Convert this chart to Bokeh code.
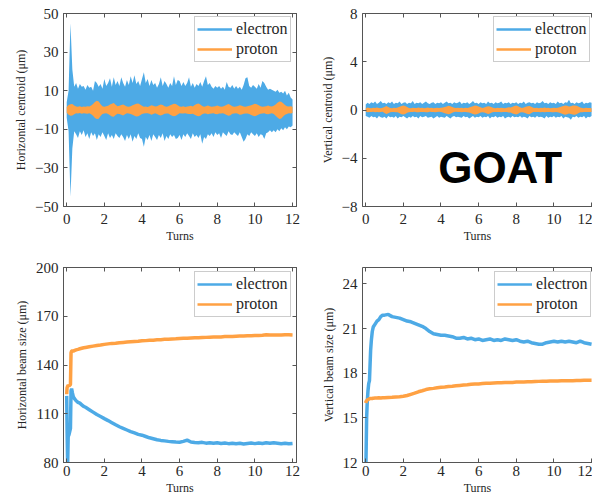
import numpy as np
from bokeh.plotting import figure
from bokeh.models import Range1d, FixedTicker, LinearAxis, Legend, LegendItem, Label
from bokeh.layouts import column, row
from bokeh.embed import file_html
from bokeh.resources import INLINE

# ---------------------------------------------------------------- data
# sampling grid of the centroid envelopes (turns)
turns_fine = np.round(np.arange(0, 121) * 0.1, 1)

# horizontal centroid (um): upper / lower envelope of the oscillation
h_cen_electron_up = [
    4, 10, 45, 21, 12, 14, 11, 13.5, 12, 12.5,
    10.5, 13, 11.5, 12, 10, 15, 14, 12, 13.5, 11,
    16, 12.5, 14, 16.5, 12, 17, 13, 15, 12.5, 17,
    14, 12, 15.5, 13, 17.5, 14, 18, 13.5, 15, 12.5,
    16, 19.5, 14, 16, 12.5, 15.5, 13, 14, 11.5, 13.5,
    17, 12.5, 15, 13.5, 11.5, 14, 12.5, 17.5, 13, 15.5,
    15, 12.5, 14.5, 12.5, 14, 17, 12, 14, 11.5, 13.5,
    12.5, 14.5, 12, 15, 17.5, 13, 14, 12, 11, 12.5,
    11.5, 12.5, 11, 12, 10.5, 14.5, 12, 11.5, 13, 11,
    12.5, 11, 12, 10.5, 13, 16.5, 17, 12.5, 11.5, 13,
    12, 11, 13.5, 11.5, 15, 14, 12, 10.5, 11, 10.5,
    10, 9.5, 10.5, 9, 9.5, 8.5, 10, 7.5, 9, 6.5, 5.5]
h_cen_electron_lo = [
    -4, -11, -45, -20, -11, -12.5, -14.5, -11, -13, -10.5,
    -14, -12, -15, -11.5, -13.5, -12, -15.5, -12.5, -14, -11.5,
    -13.5, -15.5, -12, -14.5, -13, -15, -12, -13.5, -14.5, -12.5,
    -14, -16, -13, -15, -12.5, -16.5, -13.5, -15, -12, -14.5,
    -15, -19, -14, -15.5, -13, -16, -12.5, -14, -15.5, -13,
    -14.5, -12, -16, -13.5, -15, -12.5, -14, -13, -15, -14.5,
    -13, -15.5, -12.5, -14, -12, -13.5, -15, -12, -14, -13,
    -14.5, -12.5, -17.5, -14, -15, -12.5, -13.5, -12, -14, -11.5,
    -13, -12, -14.5, -11.5, -12.5, -13.5, -11, -12.5, -13, -11.5,
    -12.5, -13.5, -11.5, -14, -16.5, -15, -12.5, -13.5, -11.5, -12.5,
    -13.5, -12, -14, -12.5, -13, -15, -12, -11.5, -10.5, -11.5,
    -10.5, -11.5, -10, -11, -9.5, -10.5, -9, -10, -8.5, -9, -8]
h_cen_proton_up = [
    1.5, 2.6, 3.0, 3.1, 2.3, 1.8, 1.7, 1.9, 1.6, 1.8,
    1.7, 2.0, 1.8, 2.3, 3.1, 4.2, 4.8, 4.4, 3.0, 2.0,
    1.7, 1.9, 2.2, 2.8, 3.3, 3.6, 2.7, 1.9, 2.2, 2.6,
    2.9, 2.3, 1.8, 1.7, 2.0, 2.4, 2.9, 3.3, 3.4, 2.9,
    2.2, 1.7, 1.8, 1.6, 1.9, 2.4, 2.2, 1.8, 2.0, 2.5,
    2.9, 2.6, 1.9, 1.7, 1.9, 2.4, 2.9, 3.3, 3.1, 2.4,
    1.8, 1.7, 1.9, 1.6, 1.8, 2.0, 2.2, 1.8, 2.6, 3.1,
    3.4, 2.9, 2.1, 1.7, 1.9, 2.3, 1.9, 1.7, 1.8, 2.0,
    2.3, 1.9, 1.7, 1.8, 2.2, 2.7, 3.1, 2.6, 1.9, 1.7,
    1.8, 2.1, 2.5, 2.2, 1.8, 1.7, 1.9, 2.2, 2.5, 2.9,
    3.3, 3.0, 2.4, 1.9, 1.7, 1.8, 2.0, 2.3, 2.0, 1.8,
    2.2, 2.9, 3.7, 4.4, 4.3, 3.5, 2.6, 2.0, 1.8, 1.9, 1.7]
h_cen_proton_lo = [
    -1.4, -2.4, -3.0, -2.9, -2.2, -1.7, -1.8, -1.6, -1.9, -1.7,
    -1.8, -1.9, -1.7, -2.2, -3.0, -4.1, -4.7, -4.5, -3.1, -2.1,
    -1.8, -1.7, -2.1, -2.7, -3.4, -3.5, -2.6, -2.0, -2.1, -2.5,
    -2.8, -2.2, -1.7, -1.8, -2.1, -2.5, -3.0, -3.4, -3.2, -2.7,
    -2.1, -1.8, -1.7, -1.7, -2.0, -2.5, -2.1, -1.7, -2.1, -2.6,
    -2.8, -2.5, -2.0, -1.8, -1.8, -2.5, -3.0, -3.2, -3.0, -2.3,
    -1.7, -1.8, -1.8, -1.7, -1.9, -2.1, -2.1, -1.9, -2.5, -3.0,
    -3.3, -3.0, -2.2, -1.8, -1.8, -2.2, -2.0, -1.8, -1.7, -2.1,
    -2.2, -1.8, -1.8, -1.7, -2.1, -2.6, -3.0, -2.7, -2.0, -1.8,
    -1.7, -2.0, -2.4, -2.3, -1.9, -1.8, -1.8, -2.1, -2.6, -3.0,
    -3.2, -2.9, -2.3, -2.0, -1.8, -1.7, -2.1, -2.2, -1.9, -1.7,
    -2.1, -3.0, -3.9, -4.6, -4.4, -3.4, -2.5, -2.1, -1.7, -1.8, -1.6]

# vertical centroid (um): upper / lower envelope
v_cen_electron_up = [
    0.45, 0.6, 0.5, 0.65, 0.55, 0.7, 0.5, 0.6, 0.75, 0.55,
    0.6, 0.5, 0.65, 0.55, 0.7, 0.5, 0.6, 0.55, 0.7, 0.5,
    0.6, 0.65, 0.5, 0.6, 0.55, 0.75, 0.5, 0.6, 0.55, 0.65,
    0.5, 0.6, 0.7, 0.55, 0.5, 0.6, 0.65, 0.5, 0.6, 0.55,
    0.65, 0.5, 0.6, 0.7, 0.55, 0.6, 0.5, 0.65, 0.55, 0.6,
    0.7, 0.5, 0.6, 0.55, 0.65, 0.5, 0.6, 0.75, 0.55, 0.6,
    0.5, 0.65, 0.55, 0.6, 0.5, 0.7, 0.55, 0.6, 0.5, 0.65,
    0.55, 0.6, 0.7, 0.5, 0.6, 0.55, 0.65, 0.5, 0.6, 0.55,
    0.65, 0.5, 0.6, 0.55, 0.7, 0.5, 0.6, 0.65, 0.55, 0.6,
    0.5, 0.65, 0.55, 0.6, 0.75, 0.55, 0.6, 0.5, 0.65, 0.55,
    0.6, 0.5, 0.7, 0.55, 0.6, 0.5, 0.65, 0.6, 0.85, 0.55,
    0.6, 0.5, 0.65, 0.55, 0.6, 0.7, 0.5, 0.6, 0.55, 0.65, 0.6]
v_cen_electron_lo = [
    -0.5, -0.55, -0.65, -0.5, -0.6, -0.55, -0.7, -0.5, -0.6, -0.65,
    -0.55, -0.7, -0.5, -0.6, -0.55, -0.65, -0.5, -0.7, -0.55, -0.6,
    -0.5, -0.6, -0.7, -0.55, -0.65, -0.5, -0.6, -0.55, -0.7, -0.5,
    -0.6, -0.55, -0.5, -0.65, -0.6, -0.55, -0.7, -0.6, -0.5, -0.65,
    -0.55, -0.6, -0.65, -0.5, -0.6, -0.7, -0.55, -0.5, -0.6, -0.55,
    -0.6, -0.65, -0.5, -0.6, -0.55, -0.7, -0.6, -0.5, -0.65, -0.55,
    -0.6, -0.5, -0.65, -0.55, -0.6, -0.5, -0.7, -0.55, -0.6, -0.5,
    -0.65, -0.55, -0.6, -0.5, -0.7, -0.6, -0.55, -0.65, -0.5, -0.6,
    -0.55, -0.6, -0.5, -0.65, -0.55, -0.6, -0.7, -0.5, -0.6, -0.55,
    -0.65, -0.5, -0.6, -0.55, -0.6, -0.7, -0.5, -0.65, -0.55, -0.6,
    -0.5, -0.65, -0.55, -0.6, -0.5, -0.7, -0.55, -0.6, -0.65, -0.8,
    -0.55, -0.6, -0.5, -0.65, -0.55, -0.6, -0.5, -0.7, -0.55, -0.6, -0.5]
v_cen_proton_up = [
    0.12, 0.2, 0.17, 0.15, 0.18, 0.16, 0.2, 0.17, 0.15, 0.18,
    0.25, 0.33, 0.25, 0.17, 0.15, 0.18, 0.16, 0.2, 0.26, 0.34,
    0.38, 0.34, 0.24, 0.17, 0.15, 0.18, 0.16, 0.17, 0.2, 0.16,
    0.18, 0.15, 0.17, 0.2, 0.16, 0.18, 0.15, 0.17, 0.19, 0.16,
    0.18, 0.2, 0.25, 0.3, 0.35, 0.32, 0.24, 0.18, 0.16, 0.18,
    0.16, 0.19, 0.15, 0.18, 0.17, 0.2, 0.26, 0.32, 0.37, 0.36,
    0.3, 0.22, 0.17, 0.2, 0.26, 0.32, 0.3, 0.22, 0.17, 0.15,
    0.18, 0.16, 0.19, 0.17, 0.15, 0.18, 0.22, 0.2, 0.27, 0.33,
    0.37, 0.32, 0.22, 0.17, 0.2, 0.26, 0.32, 0.34, 0.26, 0.18,
    0.16, 0.18, 0.15, 0.19, 0.17, 0.2, 0.16, 0.18, 0.15, 0.17,
    0.19, 0.16, 0.18, 0.22, 0.28, 0.34, 0.38, 0.36, 0.3, 0.32,
    0.37, 0.38, 0.36, 0.28, 0.2, 0.17, 0.15, 0.18, 0.16, 0.17, 0.15]
v_cen_proton_lo = [
    -0.13, -0.18, -0.16, -0.17, -0.15, -0.19, -0.16, -0.18, -0.17, -0.15,
    -0.24, -0.34, -0.26, -0.18, -0.16, -0.17, -0.18, -0.19, -0.27, -0.35,
    -0.38, -0.33, -0.23, -0.18, -0.16, -0.17, -0.15, -0.18, -0.19, -0.17,
    -0.16, -0.17, -0.18, -0.19, -0.15, -0.17, -0.16, -0.18, -0.17, -0.15,
    -0.17, -0.21, -0.26, -0.31, -0.36, -0.31, -0.23, -0.17, -0.15, -0.17,
    -0.17, -0.18, -0.16, -0.17, -0.18, -0.21, -0.27, -0.33, -0.38, -0.35,
    -0.29, -0.21, -0.18, -0.21, -0.27, -0.33, -0.29, -0.21, -0.16, -0.16,
    -0.17, -0.17, -0.18, -0.16, -0.16, -0.17, -0.21, -0.21, -0.28, -0.34,
    -0.38, -0.31, -0.21, -0.18, -0.21, -0.27, -0.33, -0.35, -0.25, -0.17,
    -0.17, -0.17, -0.16, -0.18, -0.16, -0.19, -0.17, -0.17, -0.16, -0.18,
    -0.18, -0.17, -0.19, -0.23, -0.29, -0.35, -0.39, -0.35, -0.29, -0.33,
    -0.38, -0.39, -0.35, -0.27, -0.19, -0.18, -0.16, -0.17, -0.17, -0.16, -0.16]

# beam sizes (um)
turns_bs = [0.0, 0.02, 0.05, 0.08, 0.12, 0.16, 0.2, 0.23, 0.26, 0.3, 0.35, 0.4,
            0.5, 0.6, 0.7, 0.8, 0.9, 1.0,
            1.2, 1.4, 1.6, 1.8, 2.0, 2.2, 2.4, 2.6, 2.8, 3.0,
            3.2, 3.4, 3.6, 3.8, 4.0, 4.2, 4.4, 4.6, 4.8, 5.0,
            5.2, 5.4, 5.6, 5.8, 6.0, 6.2, 6.4, 6.6, 6.8, 7.0,
            7.2, 7.4, 7.6, 7.8, 8.0, 8.2, 8.4, 8.6, 8.8, 9.0,
            9.2, 9.4, 9.6, 9.8, 10.0, 10.2, 10.4, 10.6, 10.8, 11.0,
            11.2, 11.4, 11.6, 11.8, 12.0]
h_size_electron = [121, 100, 79, 96, 97, 99, 101, 124, 125.5, 123, 120.5, 119.5,
                   118, 117, 116.5, 115.5, 114.5, 114,
                   112.5, 111, 109.5, 108.3, 107, 105.8, 104.5, 103.2, 102, 101,
                   100, 99, 98.2, 97.3, 96.8, 96, 95.2, 94.6, 94, 93.6,
                   93.3, 93, 92.8, 92.6, 92.5, 93, 93.8, 92.6, 92.3, 92.1,
                   92.4, 91.9, 92.2, 91.8, 92.1, 91.7, 92, 91.6, 91.9, 91.5,
                   91.8, 91.4, 91.7, 92, 91.6, 92, 91.7, 92.1, 91.8, 92.2,
                   91.9, 91.6, 91.9, 91.5, 91.7]
h_size_proton = [122, 126, 127, 127.5, 127, 127.5, 128, 147.5, 148.5, 148.8, 148.5, 148.8,
                 149.3, 149.6, 150, 150.3, 150.6, 150.8,
                 151.2, 151.6, 152, 152.3, 152.7, 153, 153.3, 153.4, 153.7, 153.9,
                 154.1, 154.3, 154.5, 154.6, 154.9, 155, 155.2, 155.3, 155.5, 155.6,
                 155.8, 155.9, 156, 156.1, 156.3, 156.4, 156.5, 156.6, 156.7, 156.8,
                 156.9, 157, 157.1, 157.2, 157.3, 157.3, 157.5, 157.5, 157.6, 157.7,
                 157.8, 157.9, 158, 158, 158.1, 158.2, 158.3, 158.6, 158.4, 158.4,
                 158.5, 158.5, 158.6, 158.6, 158.5]
v_size_electron = [11, 12.5, 15, 16, 16.8, 17.3, 17.5, 18.5, 19.5, 20.2, 20.8, 21.1,
                   21.3, 21.5, 21.6, 21.8, 21.9, 21.9,
                   21.95, 21.8, 21.75, 21.7, 21.6, 21.5, 21.45, 21.35, 21.25, 21.15,
                   21.0, 20.8, 20.65, 20.6, 20.55, 20.55, 20.5, 20.45, 20.35, 20.35,
                   20.4, 20.3, 20.35, 20.25, 20.3, 20.2, 20.25, 20.3, 20.2, 20.25,
                   20.2, 20.3, 20.25, 20.2, 20.25, 20.15, 20.1, 20.15, 20.05, 20.0,
                   19.95, 19.95, 20.05, 20.1, 20.15, 20.1, 20.15, 20.1, 20.15, 20.1,
                   20.05, 20.15, 20.05, 20.0, 19.95]
v_size_proton = [16.0, 16.1, 16.15, 16.2, 16.22, 16.25, 16.28, 16.3, 16.3, 16.3, 16.3, 16.32,
                 16.33, 16.33, 16.35, 16.33, 16.35, 16.35,
                 16.37, 16.38, 16.4, 16.42, 16.45, 16.5, 16.58, 16.66, 16.75, 16.82,
                 16.9, 16.95, 16.98, 17.02, 17.05, 17.07, 17.1, 17.12, 17.15, 17.18,
                 17.2, 17.22, 17.25, 17.27, 17.28, 17.3, 17.32, 17.33, 17.34, 17.35,
                 17.36, 17.37, 17.38, 17.38, 17.4, 17.4, 17.41, 17.42, 17.43, 17.44,
                 17.45, 17.46, 17.46, 17.47, 17.48, 17.48, 17.49, 17.5, 17.5, 17.5,
                 17.51, 17.51, 17.52, 17.52, 17.52]

x_ticks = [0, 2, 4, 6, 8, 10, 12]
h_cen_ticks = [-50, -30, -10, 10, 30, 50]
v_cen_ticks = [-8, -4, 0, 4, 8]
h_size_ticks = [80, 110, 140, 170, 200]
v_size_ticks = [12, 15, 18, 21, 24]
series_names = ["electron", "proton"]

# ---------------------------------------------------------------- style
BLUE = "#4DAAE6"
ORANGE = "#FFA143"
FRAME = "#555555"
TEXT = "#262626"
SERIF = "Liberation Serif"


def style_axis(ax, ticks):
    ax.ticker = FixedTicker(ticks=ticks)
    ax.major_tick_in = 4
    ax.major_tick_out = 0
    ax.minor_tick_line_color = None
    ax.axis_line_color = FRAME
    ax.major_tick_line_color = FRAME
    ax.major_label_text_font = SERIF
    ax.major_label_text_font_size = "15px"
    ax.major_label_text_color = TEXT
    ax.axis_label_text_font = SERIF
    ax.axis_label_text_font_size = "12px"
    ax.axis_label_text_font_style = "normal"
    ax.axis_label_text_color = TEXT


def mirror_axis(p, ticks, side):
    ax = LinearAxis(ticker=FixedTicker(ticks=ticks),
                    major_tick_in=4, major_tick_out=0,
                    minor_tick_line_color=None,
                    axis_line_color=FRAME, major_tick_line_color=FRAME,
                    major_label_text_font_size="0px", major_label_standoff=0,
                    major_label_overrides={t: "" for t in ticks})
    p.add_layout(ax, side)


def panel(width, height, x_end, y_lo, y_hi, y_ticks, y_label,
          top, bottom, left, right, x_standoff, full_frame):
    p = figure(width=width, height=height,
               x_range=Range1d(-0.17, x_end), y_range=Range1d(y_lo, y_hi),
               output_backend="svg", toolbar_location=None,
               min_border_left=left, min_border_right=right,
               min_border_top=top, min_border_bottom=bottom)
    p.xgrid.visible = False
    p.ygrid.visible = False
    p.background_fill_color = "white"
    p.border_fill_color = "white"
    p.outline_line_color = FRAME if full_frame else None
    style_axis(p.xaxis[0], x_ticks)
    style_axis(p.yaxis[0], y_ticks)
    p.xaxis.axis_label = "Turns"
    p.yaxis.axis_label = y_label
    p.xaxis.major_label_standoff = x_standoff
    p.yaxis.major_label_standoff = 5
    p.xaxis.axis_label_standoff = 2
    p.yaxis.axis_label_standoff = 4
    mirror_axis(p, x_ticks, "above")
    if full_frame:
        mirror_axis(p, y_ticks, "right")
    return p


def add_legend(p, x, y):
    # key entries: line renderers holding a single missing sample
    r_e = p.line(x=[np.nan], y=[np.nan], line_color=BLUE, line_width=2.5)
    r_p = p.line(x=[np.nan], y=[np.nan], line_color=ORANGE, line_width=2.5)
    leg = Legend(items=[LegendItem(label=series_names[0], renderers=[r_e]),
                        LegendItem(label=series_names[1], renderers=[r_p])],
                 location=(x, y), orientation="vertical",
                 border_line_color="#9a9a9a", border_line_width=1,
                 background_fill_color="white", background_fill_alpha=1,
                 padding=2, spacing=0, margin=0,
                 glyph_width=35, glyph_height=20, label_height=20,
                 label_standoff=4,
                 label_text_font=SERIF, label_text_font_size="16px",
                 label_text_color=TEXT)
    p.add_layout(leg)


# ---------------------------------------------------------------- panels
p1 = panel(300, 250, 12.21, -50, 50, h_cen_ticks, "Horizontal centroid (\u03bcm)",
           13, 44, 63, 4, 7, True)
p1.varea(x=turns_fine, y1=h_cen_electron_lo, y2=h_cen_electron_up, fill_color=BLUE)
p1.varea(x=turns_fine, y1=h_cen_proton_lo, y2=h_cen_proton_up, fill_color=ORANGE)
add_legend(p1, 131, 144)

p2 = panel(292, 250, 12.05, -8, 8, v_cen_ticks, "Vertical centroid (\u03bcm)",
           13, 44, 62, 0, 7, False)
p2.varea(x=turns_fine, y1=v_cen_electron_lo, y2=v_cen_electron_up, fill_color=BLUE)
p2.varea(x=turns_fine, y1=v_cen_proton_lo, y2=v_cen_proton_up, fill_color=ORANGE)
add_legend(p2, 131, 144)
p2.add_layout(Label(x=7.14, y=-4.8, text="GOAT", text_font="Liberation Sans",
                    text_font_style="bold", text_font_size="44px", text_color="black",
                    text_align="center", text_baseline="middle"))

p3 = panel(300, 251, 12.21, 80, 200, h_size_ticks, "Horizontal beam size (\u03bcm)",
           17, 39, 63, 4, 3, True)
p3.line(turns_bs, h_size_electron, line_color=BLUE, line_width=3.5)
p3.line(turns_bs, h_size_proton, line_color=ORANGE, line_width=3.5)
add_legend(p3, 131, 145)

p4 = panel(292, 251, 12.05, 12, 25.1, v_size_ticks, "Vertical beam size (\u03bcm)",
           17, 39, 62, 0, 3, False)
p4.line(turns_bs, v_size_electron, line_color=BLUE, line_width=3.5)
p4.line(turns_bs, v_size_proton, line_color=ORANGE, line_width=3.5)
add_legend(p4, 132, 145)

layout = column(row(p1, p2), row(p3, p4))

with open("out.html", "w") as f:
    f.write(file_html(layout, INLINE))
